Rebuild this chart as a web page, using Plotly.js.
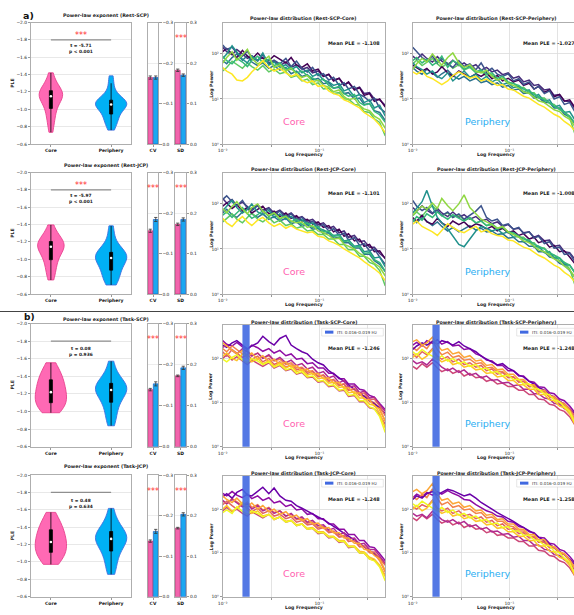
<!DOCTYPE html>
<html><head><meta charset="utf-8">
<script src="https://cdn.plot.ly/plotly-3.0.1.min.js"></script>
<style>html,body{margin:0;padding:0;overflow:hidden;background:#fff;}#c{width:580px;height:615px;}</style>
</head><body><div id="c"></div>
<script>
// ---------------- DATA ----------------
const groups = ['Core', 'Periphery'];
const conditions = ['Rest-SCP', 'Rest-JCP', 'Task-SCP', 'Task-JCP'];

// PLE samples (violin)
const pleRestSCPCore = [-1.42,-1.35,-1.30,-1.26,-1.24,-1.22,-1.21,-1.19,-1.18,-1.17,-1.16,-1.15,-1.15,-1.14,-1.12,-1.10,-1.07,-1.03,-0.99,-0.96,-0.92,-0.87,-0.81,-0.735];
const pleRestSCPPeri = [-1.385,-1.30,-1.22,-1.17,-1.13,-1.11,-1.10,-1.09,-1.08,-1.07,-1.06,-1.06,-1.05,-1.04,-1.03,-1.01,-0.99,-0.96,-0.93,-0.90,-0.88,-0.85,-0.81,-0.76];
const pleRestJCPCore = [-1.396,-1.33,-1.28,-1.25,-1.23,-1.21,-1.20,-1.18,-1.17,-1.16,-1.15,-1.15,-1.14,-1.12,-1.10,-1.08,-1.05,-1.01,-0.98,-0.95,-0.91,-0.86,-0.81,-0.762];
const pleRestJCPPeri = [-1.385,-1.29,-1.20,-1.15,-1.11,-1.09,-1.07,-1.06,-1.05,-1.04,-1.03,-1.02,-1.01,-0.99,-0.97,-0.95,-0.92,-0.89,-0.86,-0.83,-0.80,-0.77,-0.74,-0.704];
const pleTaskSCPCore = [-1.554,-1.50,-1.46,-1.43,-1.40,-1.37,-1.35,-1.33,-1.30,-1.28,-1.25,-1.23,-1.21,-1.19,-1.17,-1.15,-1.13,-1.11,-1.09,-1.07,-1.05,-1.03,-1.01,-0.986];
const pleTaskSCPPeri = [-1.572,-1.48,-1.42,-1.38,-1.35,-1.33,-1.31,-1.29,-1.28,-1.27,-1.26,-1.25,-1.24,-1.22,-1.20,-1.18,-1.15,-1.12,-1.09,-1.05,-1.00,-0.95,-0.90,-0.838];
const pleTaskJCPCore = [-1.570,-1.51,-1.47,-1.44,-1.41,-1.38,-1.36,-1.33,-1.31,-1.29,-1.26,-1.24,-1.22,-1.20,-1.18,-1.16,-1.14,-1.12,-1.10,-1.08,-1.05,-1.03,-1.00,-0.972];
const pleTaskJCPPeri = [-1.616,-1.52,-1.46,-1.42,-1.39,-1.36,-1.34,-1.32,-1.30,-1.29,-1.28,-1.27,-1.26,-1.24,-1.22,-1.20,-1.17,-1.14,-1.11,-1.07,-1.02,-0.97,-0.91,-0.857];

const tStats = ['-5.71', '-5.97', '0.08', '0.48'];
const pStats = ['< 0.001', '< 0.001', '= 0.936', '= 0.634'];
const violinSig = [true, true, false, false];
const sigLineY = -1.8;

// CV / SD bars
const cvCore = [-0.164, -0.156, -0.139, -0.137];
const cvPeri = [-0.164, -0.184, -0.153, -0.161];
const cvErrCore = [0.004, 0.004, 0.003, 0.003];
const cvErrPeri = [0.004, 0.005, 0.005, 0.005];
const sdCore = [0.182, 0.172, 0.1725, 0.169];
const sdPeri = [0.170, 0.184, 0.192, 0.203];
const sdErrCore = [0.003, 0.003, 0.002, 0.002];
const sdErrPeri = [0.003, 0.004, 0.004, 0.004];
const cvSig = [false, true, true, true];
const sdSig = [true, true, true, true];
const sigBarY = 0.26;

// Spectra
const meanPLECore = ['-1.108', '-1.101', '-1.246', '-1.248'];
const meanPLEPeri = ['-1.027', '-1.008', '-1.248', '-1.258'];
const ITI = [0.016, 0.019];
const freq = [0.010,0.011,0.0125,0.014,0.016,0.018,0.020,0.023,0.026,0.030,
              0.034,0.039,0.045,0.051,0.058,0.066,0.075,0.085,0.097,0.11,
              0.125,0.14,0.16,0.18,0.2,0.23,0.26,0.29,0.33,0.37,0.42,0.48];

// log10 power per subject line (first 3 = background subjects, last 6 = foreground)
const specRestSCPCore = [
 [2.15,2.05,1.98,2.10,2.00,1.90,1.96,1.86,1.92,1.78,1.84,1.74,1.82,1.70,1.76,1.66,1.70,1.58,1.62,1.50,1.54,1.42,1.46,1.32,1.36,1.22,1.26,1.12,1.14,1.00,0.98,0.86],
 [1.85,1.78,1.92,2.00,1.86,1.96,1.82,1.74,1.80,1.68,1.74,1.64,1.70,1.56,1.62,1.50,1.54,1.42,1.46,1.34,1.36,1.24,1.26,1.12,1.14,1.00,1.02,0.88,0.90,0.74,0.70,0.52],
 [1.62,1.70,1.84,1.76,1.68,1.80,1.72,1.64,1.74,1.60,1.66,1.56,1.60,1.48,1.52,1.40,1.44,1.32,1.36,1.22,1.24,1.12,1.14,1.00,1.00,0.88,0.86,0.72,0.70,0.56,0.48,0.18],
 [2.05,2.12,2.00,1.92,2.08,1.95,1.88,2.02,1.90,1.85,1.96,1.88,1.80,1.92,1.75,1.70,1.78,1.62,1.66,1.50,1.55,1.40,1.46,1.30,1.38,1.20,1.25,1.08,1.12,0.95,1.00,0.82],
 [2.20,2.10,2.15,2.02,1.95,2.06,1.92,1.84,1.98,1.80,1.86,1.78,1.90,1.72,1.84,1.68,1.60,1.70,1.52,1.56,1.42,1.48,1.30,1.36,1.22,1.28,1.10,1.05,0.95,1.02,0.80,0.70],
 [1.90,2.00,2.18,2.05,1.88,1.80,1.95,1.85,2.02,1.75,1.82,1.70,1.76,1.65,1.72,1.58,1.64,1.50,1.56,1.42,1.38,1.30,1.34,1.18,1.22,1.05,1.10,0.92,0.98,0.80,0.86,0.62],
 [1.95,1.85,1.78,1.90,1.82,1.72,1.86,1.95,1.80,1.88,1.74,1.80,1.66,1.70,1.58,1.62,1.52,1.46,1.40,1.44,1.30,1.24,1.28,1.12,1.06,1.10,0.92,0.86,0.90,0.72,0.65,0.48],
 [1.80,1.92,2.05,1.86,1.98,2.10,1.90,1.78,1.84,1.95,1.70,1.76,1.62,1.68,1.55,1.48,1.52,1.38,1.42,1.30,1.26,1.16,1.20,1.05,0.98,1.02,0.85,0.78,0.74,0.62,0.55,0.35],
 [1.70,1.62,1.55,1.42,1.40,1.48,1.60,1.72,1.85,1.70,1.62,1.68,1.58,1.50,1.55,1.42,1.36,1.40,1.28,1.30,1.18,1.12,1.08,0.98,0.94,0.86,0.80,0.70,0.62,0.55,0.42,0.25]];
const specRestSCPPeri = [
 [1.95,1.88,2.00,1.90,1.82,1.94,1.84,1.76,1.86,1.74,1.80,1.70,1.76,1.64,1.70,1.60,1.64,1.54,1.58,1.46,1.50,1.38,1.42,1.30,1.32,1.20,1.22,1.08,1.10,0.96,0.94,0.78],
 [1.70,1.62,1.55,1.66,1.58,1.48,1.56,1.64,1.52,1.44,1.50,1.40,1.46,1.36,1.40,1.32,1.36,1.26,1.30,1.20,1.22,1.12,1.14,1.02,1.04,0.92,0.92,0.80,0.80,0.66,0.60,0.44],
 [1.78,1.86,1.74,1.82,1.90,1.78,1.70,1.80,1.68,1.76,1.64,1.70,1.58,1.62,1.50,1.54,1.42,1.46,1.34,1.36,1.24,1.26,1.14,1.14,1.02,1.02,0.90,0.88,0.76,0.72,0.58,0.20],
 [1.75,1.70,1.62,1.68,1.55,1.60,1.72,1.58,1.50,1.62,1.55,1.48,1.56,1.50,1.58,1.45,1.52,1.40,1.46,1.38,1.42,1.30,1.35,1.22,1.28,1.15,1.20,1.05,1.10,0.95,0.98,0.80],
 [2.15,2.05,1.92,1.85,1.95,1.80,1.90,1.78,1.70,1.85,1.72,1.78,1.65,1.80,1.60,1.68,1.55,1.50,1.56,1.40,1.45,1.32,1.38,1.22,1.28,1.12,1.18,1.00,1.05,0.88,0.92,0.70],
 [1.80,1.72,1.65,1.55,1.62,1.50,1.45,1.58,1.40,1.52,1.62,1.48,1.55,1.42,1.50,1.38,1.44,1.32,1.36,1.25,1.28,1.16,1.20,1.05,1.10,0.95,0.98,0.82,0.86,0.70,0.72,0.52],
 [1.85,1.92,1.80,1.88,1.75,1.82,1.95,1.70,1.85,1.78,1.66,1.72,1.60,1.65,1.55,1.58,1.46,1.50,1.38,1.34,1.30,1.22,1.18,1.10,1.04,0.98,0.92,0.84,0.78,0.70,0.62,0.45],
 [1.65,1.78,1.90,1.82,2.00,1.86,1.75,1.92,2.02,1.80,1.70,1.76,1.62,1.58,1.64,1.50,1.42,1.46,1.35,1.30,1.24,1.16,1.12,1.04,0.96,0.92,0.84,0.76,0.72,0.62,0.55,0.38],
 [1.60,1.55,1.62,1.50,1.45,1.38,1.32,1.40,1.52,1.60,1.54,1.46,1.50,1.40,1.44,1.36,1.30,1.32,1.22,1.20,1.12,1.06,1.02,0.94,0.88,0.82,0.74,0.66,0.60,0.50,0.42,0.28]];
const specRestJCPCore = [
 [2.12,2.02,2.10,1.96,2.04,1.94,1.88,1.98,1.86,1.92,1.80,1.86,1.74,1.80,1.68,1.72,1.62,1.66,1.54,1.58,1.46,1.50,1.36,1.40,1.26,1.30,1.16,1.18,1.04,1.04,0.90,0.80],
 [1.80,1.88,1.76,1.70,1.82,1.92,1.78,1.70,1.78,1.66,1.72,1.62,1.68,1.56,1.60,1.50,1.54,1.44,1.46,1.34,1.36,1.24,1.26,1.14,1.14,1.02,1.02,0.88,0.88,0.74,0.66,0.50],
 [1.60,1.68,1.78,1.66,1.58,1.70,1.80,1.66,1.60,1.70,1.58,1.64,1.52,1.56,1.46,1.50,1.40,1.42,1.32,1.32,1.22,1.22,1.10,1.10,0.98,0.98,0.84,0.84,0.70,0.66,0.52,0.18],
 [1.95,2.02,1.90,1.98,1.85,1.92,1.80,1.88,1.95,1.78,1.84,1.72,1.80,1.68,1.74,1.62,1.66,1.55,1.60,1.48,1.52,1.38,1.44,1.28,1.34,1.18,1.22,1.06,1.10,0.94,0.96,0.78],
 [2.10,2.18,2.05,1.96,2.08,1.90,1.85,1.96,1.82,1.90,1.76,1.84,1.70,1.78,1.64,1.70,1.58,1.62,1.50,1.54,1.40,1.45,1.30,1.35,1.20,1.25,1.08,1.12,0.96,1.00,0.82,0.66],
 [1.85,1.95,2.08,1.92,1.80,1.88,2.00,1.82,1.76,1.86,1.70,1.78,1.66,1.72,1.60,1.65,1.54,1.58,1.46,1.42,1.36,1.30,1.32,1.18,1.20,1.06,1.08,0.94,0.96,0.80,0.82,0.60],
 [1.75,1.82,1.70,1.80,1.92,1.78,1.68,1.76,1.85,1.72,1.80,1.66,1.74,1.60,1.66,1.54,1.58,1.48,1.50,1.38,1.40,1.28,1.30,1.16,1.18,1.04,1.06,0.90,0.92,0.76,0.70,0.50],
 [1.90,1.80,1.95,2.05,1.88,1.78,1.92,2.00,1.84,1.74,1.80,1.68,1.72,1.62,1.58,1.60,1.48,1.52,1.40,1.36,1.30,1.22,1.24,1.10,1.06,1.00,0.90,0.84,0.78,0.68,0.60,0.40],
 [1.68,1.58,1.50,1.62,1.72,1.60,1.52,1.64,1.70,1.58,1.50,1.56,1.46,1.52,1.44,1.40,1.36,1.38,1.28,1.26,1.18,1.14,1.08,1.00,0.94,0.88,0.80,0.72,0.64,0.56,0.46,0.30]];
const specRestJCPPeri = [
 [1.92,1.84,1.96,1.86,1.78,1.90,1.80,1.72,1.82,1.70,1.76,1.66,1.72,1.62,1.66,1.56,1.60,1.50,1.54,1.44,1.46,1.36,1.38,1.26,1.30,1.18,1.20,1.06,1.08,0.94,0.92,0.76],
 [1.66,1.58,1.70,1.62,1.52,1.60,1.50,1.40,1.48,1.38,1.44,1.52,1.42,1.46,1.38,1.40,1.32,1.34,1.24,1.26,1.16,1.16,1.06,1.06,0.94,0.94,0.82,0.80,0.68,0.64,0.52,0.36],
 [1.74,1.82,1.72,1.86,1.96,1.84,1.74,1.80,1.70,1.76,1.64,1.68,1.58,1.62,1.52,1.54,1.44,1.46,1.36,1.36,1.26,1.26,1.14,1.14,1.02,1.02,0.88,0.86,0.74,0.70,0.56,0.18],
 [1.70,1.62,1.75,1.60,1.55,1.68,1.58,1.50,1.62,1.54,1.60,1.48,1.56,1.52,1.44,1.50,1.40,1.46,1.36,1.40,1.30,1.34,1.22,1.26,1.14,1.18,1.04,1.08,0.94,0.96,0.82,0.66],
 [2.08,1.95,1.85,1.92,1.80,1.86,1.74,1.82,1.70,1.78,1.66,1.74,1.84,1.96,1.70,1.62,1.66,1.52,1.56,1.44,1.48,1.34,1.38,1.24,1.28,1.12,1.16,1.02,1.04,0.88,0.90,0.70],
 [1.80,1.90,2.05,2.30,1.95,1.70,1.58,1.45,1.30,1.10,1.05,1.22,1.40,1.50,1.46,1.40,1.44,1.34,1.38,1.26,1.28,1.16,1.18,1.04,1.06,0.92,0.94,0.80,0.80,0.66,0.64,0.46],
 [1.60,1.72,1.64,1.78,1.70,1.82,1.74,1.66,1.76,1.68,1.62,1.70,1.58,1.62,1.52,1.56,1.46,1.48,1.38,1.36,1.28,1.22,1.20,1.10,1.06,1.00,0.92,0.86,0.80,0.70,0.64,0.46],
 [1.75,1.85,1.95,1.88,2.02,1.90,2.12,1.96,1.85,2.00,2.20,1.92,1.78,1.66,1.60,1.54,1.46,1.50,1.38,1.32,1.26,1.18,1.14,1.06,0.98,0.94,0.86,0.78,0.72,0.62,0.54,0.36],
 [1.55,1.62,1.50,1.45,1.38,1.30,1.42,1.56,1.48,1.40,1.36,1.44,1.50,1.38,1.42,1.34,1.30,1.28,1.20,1.18,1.10,1.04,1.00,0.92,0.86,0.80,0.72,0.64,0.58,0.48,0.40,0.26]];
const specTaskSCPCore = [
 [2.40,2.32,2.28,2.36,2.26,2.20,2.30,2.24,2.16,2.22,2.12,2.18,2.06,2.10,1.98,2.00,1.88,1.90,1.78,1.78,1.66,1.66,1.54,1.54,1.42,1.42,1.30,1.28,1.16,1.12,0.98,0.84],
 [2.00,2.08,1.96,2.04,1.94,1.86,1.96,1.88,1.82,1.90,1.78,1.84,1.72,1.76,1.64,1.68,1.56,1.58,1.46,1.48,1.36,1.38,1.26,1.28,1.14,1.16,1.02,1.02,0.88,0.86,0.72,0.50],
 [2.22,2.15,2.28,2.20,2.10,2.18,2.06,2.12,2.00,2.06,1.94,1.98,1.86,1.90,1.78,1.80,1.70,1.72,1.60,1.62,1.50,1.52,1.40,1.42,1.28,1.30,1.16,1.16,1.02,1.00,0.84,0.58],
 [2.30,2.25,2.35,2.40,2.30,2.22,2.28,2.35,2.50,2.38,2.30,2.45,2.52,2.30,2.22,2.15,2.10,1.98,1.90,1.85,1.72,1.65,1.55,1.48,1.40,1.30,1.22,1.15,1.05,0.98,0.88,0.75],
 [2.25,2.30,2.18,2.10,2.22,2.15,2.05,2.12,2.00,2.08,1.95,2.02,1.90,1.96,1.84,1.88,1.76,1.80,1.66,1.70,1.56,1.60,1.45,1.50,1.35,1.38,1.22,1.26,1.10,1.12,0.95,0.80],
 [2.15,2.05,2.20,2.12,2.02,2.10,1.98,2.05,1.92,2.00,1.86,1.92,1.80,1.85,1.74,1.78,1.66,1.70,1.58,1.62,1.48,1.52,1.38,1.42,1.28,1.32,1.18,1.22,1.06,1.08,0.92,0.70],
 [2.35,2.28,2.20,2.10,2.18,2.05,2.12,1.98,2.06,1.92,1.98,1.86,1.92,1.80,1.84,1.72,1.76,1.64,1.66,1.54,1.56,1.44,1.46,1.32,1.34,1.20,1.22,1.08,1.06,0.92,0.86,0.58],
 [2.05,2.12,2.00,1.95,2.10,2.02,1.92,2.00,1.88,1.94,1.82,1.90,1.78,1.84,1.70,1.74,1.62,1.66,1.54,1.56,1.44,1.46,1.34,1.36,1.22,1.24,1.10,1.10,0.96,0.94,0.76,0.42],
 [1.98,1.92,2.02,2.08,1.96,1.90,2.00,1.94,1.86,1.92,1.80,1.86,1.74,1.78,1.66,1.70,1.58,1.60,1.48,1.50,1.38,1.40,1.28,1.30,1.16,1.18,1.04,1.04,0.90,0.86,0.68,0.32]];
const specTaskSCPPeri = [
 [2.30,2.36,2.28,2.40,2.34,2.42,2.32,2.38,2.28,2.30,2.20,2.22,2.10,2.06,1.96,1.94,1.84,1.84,1.72,1.72,1.60,1.60,1.48,1.46,1.36,1.34,1.22,1.20,1.08,1.04,0.92,0.76],
 [1.82,1.76,1.88,1.80,1.90,1.78,1.70,1.76,1.66,1.72,1.60,1.66,1.56,1.58,1.48,1.52,1.42,1.44,1.36,1.36,1.28,1.28,1.18,1.18,1.08,1.06,0.96,0.94,0.84,0.80,0.68,0.48],
 [2.25,2.18,2.30,2.22,2.40,2.20,2.08,2.14,2.02,2.06,1.96,1.98,1.88,1.90,1.78,1.80,1.70,1.70,1.60,1.58,1.48,1.48,1.36,1.36,1.24,1.24,1.12,1.10,0.98,0.94,0.80,0.56],
 [2.20,2.28,2.35,2.30,2.38,2.32,2.40,2.36,2.30,2.38,2.28,2.22,2.15,2.05,1.98,1.92,1.85,1.88,1.78,1.72,1.62,1.58,1.48,1.42,1.34,1.28,1.18,1.12,1.04,0.96,0.86,0.72],
 [1.95,1.88,1.92,1.85,1.98,1.90,1.80,1.72,1.78,1.68,1.74,1.62,1.66,1.56,1.60,1.50,1.52,1.44,1.46,1.38,1.40,1.30,1.30,1.20,1.20,1.10,1.08,0.98,0.96,0.86,0.80,0.62],
 [2.10,2.02,2.15,2.08,2.22,2.05,1.98,2.04,1.92,1.98,1.86,1.90,1.80,1.84,1.72,1.76,1.64,1.68,1.56,1.58,1.46,1.48,1.36,1.38,1.26,1.26,1.14,1.14,1.02,0.98,0.86,0.68],
 [2.38,2.42,2.30,2.35,2.48,2.30,2.18,2.22,2.10,2.14,2.02,2.06,1.94,1.96,1.84,1.86,1.74,1.76,1.64,1.64,1.52,1.52,1.40,1.40,1.28,1.28,1.14,1.12,1.00,0.96,0.82,0.60],
 [2.02,2.10,1.98,2.05,2.20,2.00,1.92,1.98,1.86,1.90,1.80,1.84,1.74,1.76,1.66,1.68,1.58,1.60,1.50,1.50,1.40,1.40,1.30,1.30,1.18,1.18,1.06,1.04,0.92,0.88,0.74,0.48],
 [2.15,2.08,2.20,2.12,2.05,1.98,2.06,1.94,2.00,1.88,1.92,1.82,1.86,1.76,1.78,1.68,1.70,1.60,1.62,1.52,1.52,1.42,1.42,1.32,1.30,1.20,1.18,1.06,1.02,0.90,0.80,0.52]];
const specTaskJCPCore = [
 [2.36,2.30,2.40,2.32,2.26,2.34,2.24,2.30,2.20,2.26,2.14,2.18,2.06,2.10,1.98,2.00,1.88,1.90,1.78,1.78,1.66,1.66,1.54,1.54,1.42,1.42,1.28,1.28,1.14,1.12,0.98,0.82],
 [1.96,2.04,1.94,2.00,1.90,1.84,1.94,1.86,1.80,1.88,1.76,1.82,1.70,1.74,1.62,1.66,1.54,1.56,1.44,1.46,1.34,1.36,1.24,1.26,1.12,1.14,1.00,1.00,0.86,0.84,0.70,0.48],
 [2.18,2.12,2.24,2.16,2.08,2.16,2.04,2.10,1.98,2.04,1.92,1.96,1.84,1.88,1.76,1.78,1.68,1.70,1.58,1.60,1.48,1.50,1.38,1.40,1.26,1.28,1.14,1.14,1.00,0.98,0.82,0.56],
 [2.28,2.35,2.25,2.38,2.45,2.32,2.30,2.40,2.50,2.35,2.48,2.30,2.20,2.18,2.08,2.02,1.95,1.90,1.82,1.76,1.68,1.62,1.52,1.46,1.38,1.30,1.22,1.14,1.06,0.98,0.88,0.74],
 [2.20,2.12,2.22,2.15,2.05,2.12,2.00,2.08,1.96,2.02,1.90,1.96,1.84,1.90,1.78,1.82,1.70,1.74,1.62,1.64,1.52,1.56,1.42,1.46,1.32,1.34,1.20,1.22,1.08,1.08,0.92,0.76],
 [2.10,2.18,2.08,2.00,2.12,2.02,1.94,2.02,1.90,1.96,1.84,1.88,1.78,1.82,1.70,1.74,1.64,1.66,1.54,1.58,1.46,1.48,1.36,1.38,1.26,1.28,1.14,1.16,1.02,1.02,0.88,0.72],
 [2.30,2.22,2.15,2.25,2.12,2.05,2.14,2.00,2.08,1.94,2.00,1.88,1.94,1.82,1.86,1.74,1.78,1.66,1.68,1.56,1.58,1.46,1.46,1.34,1.34,1.22,1.22,1.08,1.06,0.94,0.86,0.60],
 [2.00,2.08,1.95,2.02,2.15,1.98,1.90,1.96,1.84,1.88,1.78,1.82,1.72,1.74,1.64,1.66,1.56,1.58,1.48,1.48,1.38,1.38,1.28,1.28,1.16,1.16,1.04,1.02,0.90,0.86,0.72,0.46],
 [1.92,1.98,1.90,2.05,1.95,1.88,1.96,1.90,1.82,1.88,1.76,1.82,1.70,1.74,1.62,1.66,1.54,1.56,1.46,1.46,1.36,1.36,1.26,1.26,1.14,1.14,1.00,1.00,0.86,0.82,0.68,0.36]];
const specTaskJCPPeri = [
 [2.26,2.34,2.28,2.38,2.32,2.40,2.34,2.42,2.36,2.30,2.22,2.20,2.10,2.04,1.96,1.92,1.84,1.82,1.72,1.70,1.60,1.58,1.48,1.46,1.36,1.34,1.22,1.20,1.08,1.04,0.92,0.76],
 [1.80,1.74,1.86,1.78,1.88,1.76,1.68,1.74,1.64,1.70,1.58,1.64,1.54,1.56,1.46,1.50,1.40,1.42,1.34,1.34,1.26,1.26,1.16,1.16,1.06,1.04,0.94,0.92,0.82,0.78,0.66,0.46],
 [2.28,2.22,2.34,2.26,2.46,2.24,2.10,2.16,2.04,2.08,1.98,2.00,1.90,1.92,1.80,1.82,1.72,1.72,1.62,1.60,1.50,1.50,1.38,1.38,1.26,1.26,1.14,1.12,1.00,0.96,0.82,0.58],
 [2.22,2.30,2.25,2.35,2.40,2.32,2.38,2.45,2.42,2.36,2.30,2.34,2.25,2.15,2.08,2.00,1.92,1.86,1.78,1.72,1.64,1.58,1.50,1.44,1.36,1.28,1.20,1.12,1.04,0.96,0.86,0.72],
 [1.90,1.84,1.88,1.80,1.95,1.86,1.76,1.70,1.76,1.66,1.72,1.60,1.64,1.54,1.58,1.48,1.50,1.42,1.44,1.36,1.38,1.28,1.28,1.18,1.18,1.08,1.06,0.96,0.94,0.84,0.78,0.60],
 [2.05,2.00,2.10,2.05,2.20,2.02,1.96,2.02,1.90,1.96,1.84,1.88,1.78,1.82,1.70,1.74,1.62,1.66,1.54,1.56,1.44,1.46,1.34,1.36,1.24,1.24,1.12,1.12,1.00,0.96,0.84,0.66],
 [2.40,2.45,2.35,2.42,2.58,2.35,2.20,2.24,2.12,2.16,2.04,2.08,1.96,1.98,1.86,1.88,1.76,1.78,1.66,1.66,1.54,1.54,1.42,1.42,1.30,1.30,1.16,1.14,1.02,0.98,0.84,0.62],
 [2.00,2.08,1.96,2.02,2.18,1.98,1.90,1.96,1.84,1.88,1.78,1.82,1.72,1.74,1.64,1.66,1.56,1.58,1.48,1.48,1.38,1.38,1.28,1.28,1.16,1.16,1.04,1.02,0.90,0.86,0.72,0.46],
 [2.12,2.06,2.18,2.10,2.02,1.96,2.04,1.92,1.98,1.86,1.90,1.80,1.84,1.74,1.76,1.66,1.68,1.58,1.60,1.50,1.50,1.40,1.40,1.30,1.28,1.18,1.16,1.04,1.00,0.88,0.78,0.50]];

const restPalette = ['#472d7b','#2c728e','#5ec962','#440154','#3b528b','#21918c','#35b779','#90d743','#fde725'];
const taskPalette = ['#8f0da4','#cc4778','#f2844b','#6a00a8','#b12a90','#e16462','#fca636','#fdc328','#f0f921'];

// ---------------- LAYOUT HELPERS ----------------
const W = 580, H = 615;
const FONT = 'DejaVu Sans';
const px = x => x / W, py = y => 1 - y / H;
const dom = (a, b) => [a / W, b / W];
const domY = (t, b) => [1 - b / H, 1 - t / H];
const rowsV = [[22.5,144],[172.5,294],[323.5,446.7],[475,596.7]];
const rowsS = [[23.3,144],[173.3,294],[325,446.7],[476,596.7]];
const colV = [31,131], colC = [147.5,158.5], colSD = [175,186], colL = [222.7,385], colR = [412.7,580];
const decadePx = 96.7;
const vTitleY = [15,165.7,319,466.7];
const sTitleY = [19,170,322.7,473.8];
const pleData = [[pleRestSCPCore,pleRestSCPPeri],[pleRestJCPCore,pleRestJCPPeri],[pleTaskSCPCore,pleTaskSCPPeri],[pleTaskJCPCore,pleTaskJCPPeri]];
const specData = [[specRestSCPCore,specRestSCPPeri],[specRestJCPCore,specRestJCPPeri],[specTaskSCPCore,specTaskSCPPeri],[specTaskJCPCore,specTaskJCPPeri]];
const violinWidths = [[0.39,0.52],[0.44,0.52],[0.52,0.52],[0.52,0.52]];

const PINK = '#FF69B4', PINK_EDGE = '#E8438F', BLUE = '#00B0F5', BLUE_EDGE = '#3F6FE0';
const BAR_PINK = '#F263AC', BAR_PINK_EDGE = '#B2306F', BAR_BLUE = '#1AA8F0', BAR_BLUE_EDGE = '#1E5FBF';
const tickF = {family: FONT, size: 4.4, color: '#222'};
const tickFB = {family: FONT, size: 4.5, color: '#111', weight: 'bold'};
const frame = {showline: true, mirror: true, linecolor: '#9a9a9a', linewidth: 0.8, zeroline: false,
               ticks: 'outside', ticklen: 2.2, tickwidth: 0.6, tickcolor: '#555'};

const median = a => { const s = a.slice().sort((p, q) => p - q); const n = s.length;
  return n % 2 ? s[(n - 1) / 2] : (s[n / 2 - 1] + s[n / 2]) / 2; };
const sfx = k => (k === 1 ? '' : String(k));

const traces = [], annotations = [], shapes = [];
const layout = {width: W, height: H, margin: {l: 0, r: 0, t: 0, b: 0}, showlegend: false,
  paper_bgcolor: '#fff', plot_bgcolor: '#fff', font: {family: FONT, size: 5, color: '#222'}};

function ann(o) { annotations.push(Object.assign({showarrow: false, xref: 'paper', yref: 'paper', xanchor: 'center', yanchor: 'middle'}, o)); }

for (let r = 0; r < 4; r++) {
  const b = r * 5, kV = b + 1, kC = b + 2, kS = b + 3, kL = b + 4, kR = b + 5;
  const isTask = r >= 2;
  const [vt, vb] = rowsV[r], [st, sb] = rowsS[r];

  // ---- violin subplot
  layout['xaxis' + sfx(kV)] = Object.assign({}, frame, {domain: dom(...colV), anchor: 'y' + sfx(kV), type: 'linear',
    range: [-0.33, 1.33], tickvals: [0, 1], ticktext: groups, tickfont: tickFB, showgrid: false});
  layout['yaxis' + sfx(kV)] = Object.assign({}, frame, {domain: domY(vt, vb), anchor: 'x' + sfx(kV),
    range: [-0.6, -2.0], tick0: -2.0, dtick: 0.2, tickformat: '.1f', tickfont: tickF,
    showgrid: true, gridcolor: '#e2e2e2', gridwidth: 0.8});
  const vx = 'x' + sfx(kV), vy = 'y' + sfx(kV);
  [0, 1].forEach(g => {
    traces.push({type: 'violin', x0: g, y: pleData[r][g], name: groups[g], xaxis: vx, yaxis: vy,
      spanmode: 'hard', points: false, width: violinWidths[r][g], scalemode: 'width',
      fillcolor: g ? BLUE : PINK, line: {color: g ? BLUE_EDGE : PINK_EDGE, width: 0.9}, opacity: 1,
      box: {visible: true, width: 3.0 / (violinWidths[r][g] * 60), fillcolor: '#000', line: {color: '#000', width: 0.8}},
      meanline: {visible: false}, hoverinfo: 'skip'});
  });
  traces.push({type: 'scatter', mode: 'markers', x: [0, 1], y: [median(pleData[r][0]), median(pleData[r][1])],
    xaxis: vx, yaxis: vy, marker: {color: '#fff', size: 2.6}, hoverinfo: 'skip'});
  traces.push({type: 'scatter', mode: 'lines', x: [0, 1], y: [sigLineY, sigLineY], xaxis: vx, yaxis: vy,
    line: {color: '#8f8f8f', width: 1.1}, hoverinfo: 'skip'});
  ann({xref: vx, yref: vy, x: 0.5, y: isTask ? -1.677 : -1.70, text: '<b>t = ' + tStats[r] + '<br>p ' + pStats[r] + '</b>',
    font: {family: FONT, size: 4.4, color: '#222'}, align: 'center'});
  if (violinSig[r]) ann({xref: vx, yref: vy, x: 0.5, y: -1.85, text: '***', font: {family: FONT, size: 8, color: '#ff3030'}});
  ann({x: px(106), y: py(vTitleY[r]), text: '<b>Power-law exponent (' + conditions[r] + ')</b>', font: {family: FONT, size: 4.8, color: '#222'}});
  ann({x: px(12.5), y: py((vt + vb) / 2), text: '<b>PLE</b>', textangle: -90, font: {family: FONT, size: 4.6, color: '#222'}});

  // ---- CV & SD bars
  [[kC, colC, 'CV', [cvCore[r], cvPeri[r]], [cvErrCore[r], cvErrPeri[r]], cvSig[r], -1],
   [kS, colSD, 'SD', [sdCore[r], sdPeri[r]], [sdErrCore[r], sdErrPeri[r]], sdSig[r], 1]].forEach(([k, col, lab, vals, errs, sig, sgn]) => {
    layout['xaxis' + sfx(k)] = Object.assign({}, frame, {domain: dom(...col), anchor: 'y' + sfx(k), type: 'linear',
      range: [-0.5, 1.5], tickvals: [0.5], ticktext: [lab], tickfont: tickFB, showgrid: false});
    layout['yaxis' + sfx(k)] = Object.assign({}, frame, {domain: domY(vt, vb), anchor: 'x' + sfx(k), side: 'right',
      range: [0, 0.3 * sgn], tickvals: [0, 0.1 * sgn, 0.2 * sgn, 0.3 * sgn], tickformat: '.1f', tickfont: tickF,
      showgrid: true, gridcolor: '#e6e6e6', gridwidth: 0.7});
    traces.push({type: 'bar', x: [0, 1], y: vals, width: [0.88, 0.88], xaxis: 'x' + sfx(k), yaxis: 'y' + sfx(k),
      marker: {color: [BAR_PINK, BAR_BLUE], line: {color: [BAR_PINK_EDGE, BAR_BLUE_EDGE], width: 0.7}},
      error_y: {type: 'data', array: errs, color: '#333', thickness: 0.8, width: 1.6}, hoverinfo: 'skip'});
    if (sig) ann({xref: 'x' + sfx(k), yref: 'y' + sfx(k), x: 0.5, y: sigBarY * sgn, text: '***', font: {family: FONT, size: 8, color: '#ff3030'}});
  });

  // ---- spectra
  [[kL, colL, 0], [kR, colR, 1]].forEach(([k, col, g]) => {
    const xr = -2 + (col[1] - col[0]) / decadePx;
    layout['xaxis' + sfx(k)] = Object.assign({}, frame, {domain: dom(...col), anchor: 'y' + sfx(k), type: 'log',
      range: [-2, xr], tickvals: [0.01, 0.0316, 0.1, 0.316], ticktext: ['10⁻²', '', '10⁻¹', ''], tickfont: tickF,
      showgrid: true, gridcolor: '#dcdcdc', gridwidth: 0.8});
    layout['yaxis' + sfx(k)] = Object.assign({}, frame, {domain: domY(st, sb), anchor: 'x' + sfx(k), type: 'log',
      range: [0, isTask ? 2.755 : 2.68], tickvals: [1, 10, 100], ticktext: ['10⁰', '10¹', '10²'], tickfont: tickF,
      showgrid: true, gridcolor: '#dcdcdc', gridwidth: 0.8});
    const pal = isTask ? taskPalette : restPalette;
    specData[r][g].forEach((line, i) => {
      traces.push({type: 'scatter', mode: 'lines', x: freq, y: line.map(v => Math.pow(10, v)),
        xaxis: 'x' + sfx(k), yaxis: 'y' + sfx(k), line: {color: pal[i], width: 1.5}, hoverinfo: 'skip'});
    });
    const cx = (col[0] + col[1]) / 2;
    ann({x: px(cx), y: py(sTitleY[r]), text: '<b>Power-law distribution (' + conditions[r] + '-' + groups[g] + ')</b>',
      font: {family: FONT, size: 4.8, color: '#222'}});
    ann({x: px(col[0] - 11.5), y: py((st + sb) / 2), text: '<b>Log Power</b>', textangle: -90, font: {family: FONT, size: 4.6, color: '#222'}});
    ann({x: px(cx), y: py(sb + 11), text: '<b>Log Frequency</b>', font: {family: FONT, size: 4.6, color: '#222'}});
    ann({x: px(col[1] - 3.3), xanchor: 'right', y: py(st + (isTask ? 22.7 : 20)),
      text: '<b>Mean PLE = ' + (g ? meanPLEPeri[r] : meanPLECore[r]) + '</b>', font: {family: FONT, size: 4.9, color: '#222'}});
    ann({x: px(col[0] + (g ? 75 : 71.6)), y: py(sb - 23), text: groups[g],
      font: {family: FONT, size: 9.5, color: g ? '#2AAEF2' : '#FF5FB0'}});
    if (isTask) {
      shapes.push({type: 'rect', xref: 'x' + sfx(k), yref: 'y' + sfx(k) + ' domain', x0: ITI[0], x1: ITI[1], y0: 0, y1: 1,
        fillcolor: '#4169E1', opacity: 0.9, line: {width: 0}, layer: 'above'});
      const bx1 = col[1] - 1.7, bx0 = bx1 - 61.6, by0 = st + 3.3, by1 = st + 11;
      shapes.push({type: 'rect', xref: 'paper', yref: 'paper', x0: px(bx0), x1: px(bx1), y0: py(by1), y1: py(by0),
        fillcolor: 'rgba(255,255,255,0.85)', line: {color: '#cfcfcf', width: 0.5}, layer: 'above'});
      const cy = (by0 + by1) / 2;
      shapes.push({type: 'rect', xref: 'paper', yref: 'paper', x0: px(bx0 + 3.3), x1: px(bx0 + 11.7), y0: py(cy + 1.5), y1: py(cy - 1.5),
        fillcolor: '#4169E1', line: {width: 0}, layer: 'above'});
      ann({x: px(bx0 + 13), xanchor: 'left', y: py(cy), text: 'ITI: ' + ITI[0].toFixed(3) + '-' + ITI[1].toFixed(3) + ' Hz',
        font: {family: FONT, size: 4.2, color: '#333'}});
    }
  });
}

// panel letters and separator
ann({x: px(28), y: py(15), text: '<b>a)</b>', font: {family: FONT, size: 9.5, color: '#111'}});
ann({x: px(29), y: py(316.5), text: '<b>b)</b>', font: {family: FONT, size: 9, color: '#111'}});
shapes.push({type: 'line', xref: 'paper', yref: 'paper', x0: 0, x1: 1, y0: py(311.5), y1: py(311.5), line: {color: '#444', width: 1}});

layout.annotations = annotations;
layout.shapes = shapes;
Plotly.newPlot('c', traces, layout, {staticPlot: true, displayModeBar: false});
</script></body></html>
